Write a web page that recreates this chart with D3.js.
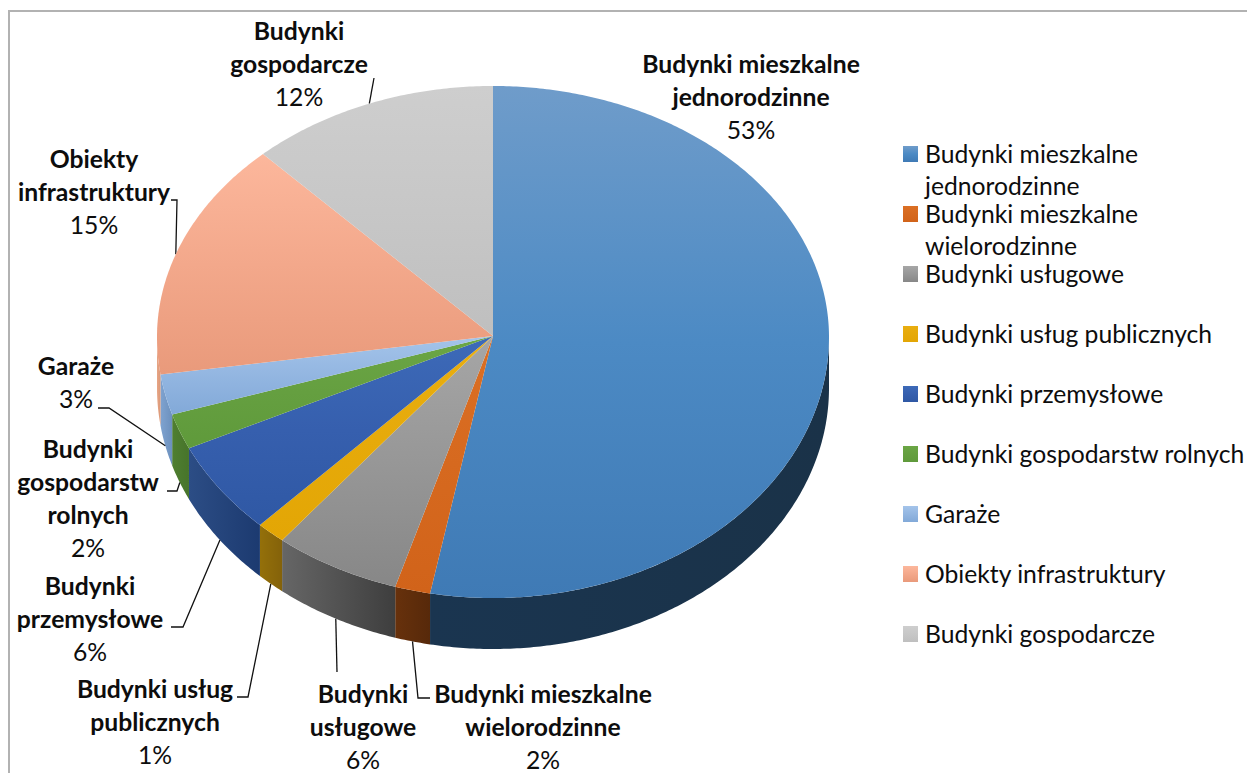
<!DOCTYPE html>
<html><head><meta charset="utf-8">
<script src="https://cdn.jsdelivr.net/npm/d3@7"></script>
<style>html,body{margin:0;padding:0;background:#fff;overflow:hidden}text{font-family:Lato,"Open Sans",sans-serif;fill:#0d0d0d}</style>
</head><body><svg id="c" width="1247" height="773"></svg>
<script>
const categories = ["Budynki mieszkalne jednorodzinne","Budynki mieszkalne wielorodzinne","Budynki usługowe","Budynki usług publicznych","Budynki przemysłowe","Budynki gospodarstw rolnych","Garaże","Obiekty infrastruktury","Budynki gospodarcze"];
const values = [53, 1.7, 6.1, 1.4, 5.8, 2.2, 2.5, 15.3, 12];
const labelLines = [["Budynki mieszkalne","jednorodzinne"],["Budynki mieszkalne","wielorodzinne"],["Budynki","usługowe"],["Budynki usług","publicznych"],["Budynki","przemysłowe"],["Budynki","gospodarstw","rolnych"],["Garaże"],["Obiekty","infrastruktury"],["Budynki","gospodarcze"]];
const legendLines = [["Budynki mieszkalne","jednorodzinne"],["Budynki mieszkalne","wielorodzinne"],["Budynki usługowe"],["Budynki usług publicznych"],["Budynki przemysłowe"],["Budynki gospodarstw rolnych"],["Garaże"],["Obiekty infrastruktury"],["Budynki gospodarcze"]];
const topTop = ["#6f9cca","#db6f24","#a6a6a6","#e9ae10","#3d6ab8","#6ba645","#a4c4ea","#fcb79c","#cecece"];
const topMid = ["#4c8ac4","#d6691f","#979797","#e6aa0a","#365fae","#659f40","#93b6e1","#f3a88b","#c7c7c7"];
const topBot = ["#3f7ab5","#d1631a","#878787","#e3a605","#2f58a4","#5f9a3b","#82a9d8","#e99a7b","#bfbfbf"];
const wallL  = ["#1a3550","#67310c","#666666","#94700a","#2c4d85","#4f7f30","#7fa3d0","#e8a585","#999999"];
const wallR  = ["#1a3248","#57290a","#3e3e3e","#84620a","#1c3a70","#47742b","#6c90bd","#d99878","#999999"];
const labelPos = [[751,65],[543,695],[363,695],[155,690],[90,587],[88,450],[76,367],[94,160],[299,32]];
const leaders = [null,[[418,698],[430,698]],[[337,672]],[[248,697],[237,697]],[[183,627],[171,627]],[[177,491],[167,491]],[[109,408],[98,408]],[[177,200],[171,200]],[[374,78]]];
const legendRows = [154.5,214.5,274.5,334.5,394.5,454.5,514.5,574.5,634.5];

const W = 1247, H = 773, cx = 493, cy = 337, rx = 336, ryUp = 251, ryDown = 261, depth = 51;
const svg = d3.select("#c");
const defs = svg.append("defs");
const fs = 24.7, lh = 32.8;

svg.append("path").attr("d", `M${W+2},11H9V${H+2}`).attr("fill","none").attr("stroke","#b2b2b2").attr("stroke-width",2);

function pt(a, dz = 0) {
  const s = Math.sin(a), c = Math.cos(a);
  return [cx + rx*s, cy - (c > 0 ? ryUp : ryDown)*c + dz];
}
function rim(a0, a1, dz = 0) {
  const n = Math.max(2, Math.ceil((a1-a0)/0.01));
  return d3.range(n+1).map(i => pt(a0 + (a1-a0)*i/n, dz));
}
const pie = d3.pie().sort(null).value(d => d)(values);
const line = d3.line();

function topGradient(id, i) {
  const g = defs.append("linearGradient").attr("id",id).attr("x1",0).attr("y1",0).attr("x2",0).attr("y2",1);
  g.append("stop").attr("offset",0).attr("stop-color",topTop[i]);
  g.append("stop").attr("offset",0.5).attr("stop-color",topMid[i]);
  g.append("stop").attr("offset",1).attr("stop-color",topBot[i]);
}
values.forEach((_, i) => {
  topGradient("t"+i, i);
  const w = defs.append("linearGradient").attr("id","w"+i).attr("x1",0).attr("y1",0).attr("x2",1).attr("y2",0);
  w.append("stop").attr("offset",0).attr("stop-color",wallL[i]);
  w.append("stop").attr("offset",1).attr("stop-color",wallR[i]);
});

// walls
pie.forEach((d, i) => {
  const a0 = Math.max(d.startAngle, Math.PI/2), a1 = Math.min(d.endAngle, 3*Math.PI/2);
  if (a1 <= a0) return;
  const pts = rim(a0, a1).concat(rim(a0, a1, depth).reverse());
  svg.append("path").attr("d", line(pts)+"Z").attr("fill",`url(#w${i})`);
});
// leaders
pie.forEach((d, i) => {
  if (!leaders[i]) return;
  const mid = (d.startAngle + d.endAngle)/2;
  const onWall = Math.cos(mid) < 0;
  const p0 = pt(mid, onWall ? 0 : 0);
  const start = (mid > Math.PI/2 && mid < 3*Math.PI/2) ? pt(mid, depth) : p0;
  svg.append("path").attr("d", line([start, ...leaders[i]])).attr("fill","none").attr("stroke","#111").attr("stroke-width",1.3);
});
// top faces
pie.forEach((d, i) => {
  const pts = [[cx, cy - 1], ...rim(d.startAngle, d.endAngle)];
  svg.append("path").attr("d", line(pts)+"Z").attr("fill",`url(#t${i})`);
});

// data labels
pie.forEach((d, i) => {
  const [x, y] = labelPos[i];
  const t = svg.append("g").attr("transform",`translate(${x},${y})`).attr("text-anchor","middle");
  labelLines[i].forEach((s, k) => t.append("text").attr("y", k*lh).attr("dy","0.34em").attr("font-size",fs).attr("font-weight",700).text(s));
  t.append("text").attr("y", labelLines[i].length*lh).attr("dy","0.34em").attr("font-size",fs).text(Math.round(values[i])+"%");
});

// legend
legendLines.forEach((ls, i) => {
  const y = legendRows[i];
  topGradient("l"+i, i);
  svg.append("rect").attr("x",903).attr("y",y-8.5).attr("width",15).attr("height",16).attr("fill",`url(#l${i})`);
  ls.forEach((s,k) => svg.append("text").attr("x",925).attr("y",y+k*32.5).attr("dy","0.34em").attr("font-size",fs).text(s));
});
</script></body></html>
